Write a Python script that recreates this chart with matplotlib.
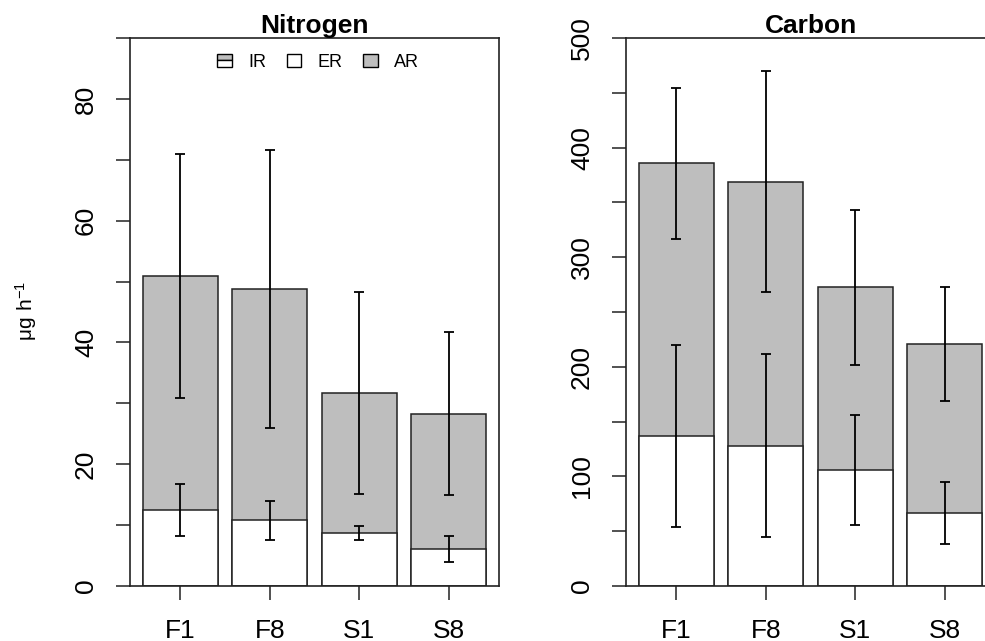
import numpy as np
import matplotlib
matplotlib.use("Agg")
import matplotlib.pyplot as plt
from matplotlib.patches import Rectangle
from matplotlib.legend_handler import HandlerBase

plt.rcParams['font.family'] = ['Liberation Sans', 'DejaVu Sans']

groups = ["F1", "F8", "S1", "S8"]

# nitrogen: total (ER + AR) and ER, with SD
n_total = [50.9, 48.8, 31.7, 28.3]
n_total_sd = [20.0, 22.8, 16.6, 13.4]
n_er = [12.5, 10.8, 8.7, 6.1]
n_er_sd = [4.25, 3.2, 1.1, 2.1]

# carbon
c_total = [385.5, 369.0, 272.5, 220.8]
c_total_sd = [68.5, 100.5, 70.5, 52.3]
c_er = [137.0, 128.0, 106.0, 67.0]
c_er_sd = [83.2, 83.6, 50.0, 28.3]

legend_labels = ["IR", "ER", "AR"]

GRAY = "#bebebe"


class HalfBoxHandler(HandlerBase):
    # legend key: upper half gray, lower half white
    def create_artists(self, legend, orig, xd, yd, w, h, fontsize, trans):
        top = Rectangle((-xd, -yd + h / 2), w, h / 2, fc=GRAY, ec="black", lw=1.0, transform=trans)
        bot = Rectangle((-xd, -yd), w, h / 2, fc="white", ec="black", lw=1.0, transform=trans)
        return [top, bot]


def panel(ax, total, total_sd, er, er_sd, title, ymax, major, minor):
    x = np.arange(len(groups))
    ax.bar(x, total, width=0.84, color=GRAY, edgecolor="#222222", linewidth=1.1, zorder=2)
    ax.bar(x, er, width=0.84, color="white", edgecolor="#222222", linewidth=1.1, zorder=2)
    ax.errorbar(x, total, yerr=total_sd, fmt="none", ecolor="black", elinewidth=1.3,
                capsize=3.5, capthick=1.3, zorder=3)
    ax.errorbar(x, er, yerr=er_sd, fmt="none", ecolor="black", elinewidth=1.3,
                capsize=3.5, capthick=1.3, zorder=3)
    ax.set_xlim(-0.565, 3.565)
    ax.set_ylim(0, ymax)
    ax.set_xticks(x)
    ax.set_xticklabels(groups)
    ax.set_yticks(np.arange(0, ymax + 1, major))
    ax.set_yticks(np.arange(0, ymax + 1, minor), minor=True)
    for lab in ax.get_yticklabels():
        lab.set_rotation(90)
        lab.set_va("center")
    ax.tick_params(axis="both", which="both", length=10, width=1.1, color="#222222")
    ax.tick_params(axis="y", which="major", labelsize=19, pad=13)
    ax.tick_params(axis="x", labelsize=19, pad=14)
    for s in ax.spines.values():
        s.set_linewidth(1.2)
        s.set_color("#222222")
    ax.set_title(title, fontsize=19, fontweight="bold", pad=3)


fig = plt.figure(figsize=(9.85, 6.41), dpi=100)
ax1 = fig.add_axes([130 / 985, 55 / 641, 369 / 985, 548 / 641])
ax2 = fig.add_axes([626 / 985, 55 / 641, 369 / 985, 548 / 641])

panel(ax1, n_total, n_total_sd, n_er, n_er_sd, "Nitrogen", 90, 20, 10)
panel(ax2, c_total, c_total_sd, c_er, c_er_sd, "Carbon", 500, 100, 50)

handles = [Rectangle((0, 0), 1, 1),
           Rectangle((0, 0), 1, 1, fc="white", ec="black", lw=1.0),
           Rectangle((0, 0), 1, 1, fc=GRAY, ec="black", lw=1.0)]
ax1.legend(handles, legend_labels, loc="center", bbox_to_anchor=(0.51, 0.956), ncol=3,
           frameon=False, fontsize=13, handlelength=0.8, handleheight=0.7,
           handletextpad=0.9, columnspacing=1.15, borderpad=0,
           handler_map={handles[0]: HalfBoxHandler()})

fig.text(26 / 985, 1 - 311 / 641, r"$\mathregular{\mu g\ h^{-1}}$", rotation=90,
         ha="center", va="center", fontsize=15)

fig.savefig("out.png", dpi=100)
